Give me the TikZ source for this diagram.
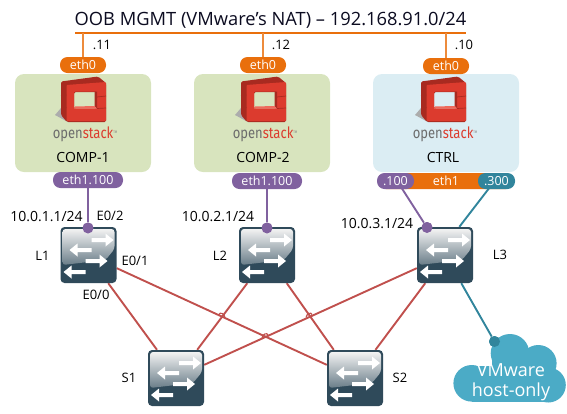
\documentclass[tikz,border=0pt]{standalone}
\usepackage{fontspec}
\setmainfont{Open Sans}
\newfontfamily\logofont{Fira Sans}
\definecolor{cOrange}{HTML}{E96F0C}
\definecolor{cOrangeL}{HTML}{ED8B3C}
\definecolor{cPurple}{HTML}{80619F}
\definecolor{cTeal}{HTML}{31859C}
\definecolor{cRed}{HTML}{C0504D}
\definecolor{cGreen}{HTML}{D8E4BE}
\definecolor{cBlue}{HTML}{DBEDF3}
\definecolor{cCloud}{HTML}{4BABC6}
\definecolor{cSw}{HTML}{2F4A5A}
\definecolor{cNavy}{HTML}{0B0B20}
\definecolor{cLogo}{HTML}{DC3B2E}
\definecolor{cLogoD}{HTML}{A82A20}
\definecolor{cLogoL}{HTML}{EF6A5C}
\tikzset{
  host/.style={fill=#1,rounded corners=9pt,minimum width=136pt,minimum height=98pt,inner sep=0pt},
  pill/.style={fill=#1,text=white,rounded corners=7.5pt,minimum height=16pt,inner sep=0pt,font=\fontsize{12.5}{14}\selectfont},
  swnode/.style={minimum width=56pt,minimum height=56pt,inner sep=0pt},
  dotnode/.style={circle,fill=#1,minimum size=11pt,inner sep=0pt},
  lbl/.style={inner sep=0pt,text=black,font=\fontsize{13}{15}\selectfont},
  iplbl/.style={inner sep=0pt,text=black,font=\fontsize{14}{16}\selectfont},
  redlink/.style={draw=cRed,line width=1.9pt},
  purplelink/.style={draw=cPurple,line width=1.9pt},
  teallink/.style={draw=cTeal,line width=1.9pt},
  orangelink/.style={draw=cOrangeL,line width=1.9pt},
}
% switch icon at the centre of a named node
\newcommand{\swarw}[4]{% x-start, x-end, y, sign
  \fill[white] (#1,#3-2) -- ({#2-8*#4},#3-2) -- ({#2-8*#4},#3-6.5) -- (#2,#3) -- ({#2-8*#4},#3+6.5) -- ({#2-8*#4},#3+2) -- (#1,#3+2) -- cycle;}
\newcommand{\swicon}[1]{%
  \begin{scope}[shift={(#1.center)}]
    \fill[cSw,rounded corners=4pt] (-28,-28) rectangle (28,28);
    \shade[top color=white!90!gray,bottom color=cSw!72!white,rounded corners=3pt]
      (-26,-26) -- (26,-26) -- (26,-6) -- (17,5) -- (-26,10) -- cycle;
    \swarw{3}{25}{-15}{1}
    \swarw{3}{-19}{-5}{-1}
    \swarw{-3}{19}{6}{1}
    \swarw{-3}{-25}{17}{-1}
  \end{scope}}
% OpenStack logo at the centre (x,100)
\newcommand{\oslogo}[3]{%
  \begin{scope}[shift={(#1,100)}]
    \fill[gray!65] (-22,8) -- (-28,15) -- (-15,22) -- cycle;
    \fill[cLogoD,rounded corners=1.5pt,even odd rule]
      (-22,-18.5) -- (15,-23.5) -- (23,-17) -- (23,22) -- (-16,22) -- (-22,15) -- cycle
      (-9,-8) -- (14,-8) -- (14,8.5) -- (-9,8.5) -- cycle;
    \fill[cLogo,rounded corners=1pt,even odd rule]
      (-16.5,-15) -- (23,-18) -- (23,21) -- (-16.5,21) -- cycle
      (-9,-8.5) -- (14,-8.5) -- (14,8.5) -- (-9,8.5) -- cycle;
    \fill[cLogoD] (11.5,-8.5) -- (14,-8.5) -- (14,8.5) -- (11.5,6) -- cycle;
    \fill[cLogoL] (-9,8.5) -- (14,8.5) -- (11.5,6) -- (-8,6.5) -- cycle;
    \draw[cLogoD,line width=.7pt] (-22,-4) -- (-16.5,-5) (-22,9) -- (-16.5,7.5) (14,-3) -- (23,-4) (14,8.5) -- (23,8);
    \node[inner sep=0pt,anchor=base] at (2,38)
      {\scalebox{1}[1.2]{\logofont\fontsize{13}{14}\selectfont\textcolor{gray!85!black}{open}\textcolor{cLogo}{stack}\raisebox{4pt}{\textcolor{gray}{\fontsize{3}{3}\selectfont TM}}}};
    \node[lbl,font=\fontsize{14}{16}\selectfont] (#2) at (0,57.5) {#3};
  \end{scope}}
\newcommand{\bumpdown}[2]{%
  \draw[cRed,line width=1.2pt] (#1-3,#2-1.4) .. controls (#1-2,#2-4) and (#1+2,#2-3) .. (#1+3,#2+1.4);}
\newcommand{\bumpup}[2]{%
  \draw[cRed,line width=1.2pt] (#1-3,#2+1.4) .. controls (#1-2,#2-3) and (#1+2,#2-4) .. (#1+3,#2-1.4);}
\begin{document}
\begin{tikzpicture}[x=1pt,y=-1pt]
\useasboundingbox (0,0) rectangle (567,413);
% OOB bus
\node[inner sep=0pt,text=cNavy,font=\fontsize{18.3}{20}\selectfont] (oob) at (270.5,20) {OOB MGMT (VMware’s NAT) – 192.168.91.0/24};
\coordinate (busL) at (75,33);
\coordinate (busR) at (466,33);
\coordinate (tap1) at (83,33);
\coordinate (tap2) at (263,33);
\coordinate (tap3) at (446,33);
% hosts
\node[host=cGreen] (comp1) at (83,123) {};
\node[host=cGreen] (comp2) at (262,123) {};
\node[host=cBlue,minimum width=146pt] (ctrl) at (446,123) {};
\oslogo{83}{comp1lbl}{COMP-1}
\oslogo{263}{comp2lbl}{COMP-2}
\oslogo{443}{ctrllbl}{CTRL}
% interfaces
\node[pill=cOrange,minimum width=46pt] (eth0a) at (83,65) {eth0};
\node[pill=cOrange,minimum width=46pt] (eth0b) at (263,65) {eth0};
\node[pill=cOrange,minimum width=46pt] (eth0c) at (446,66) {eth0};
\node[pill=cPurple,minimum width=70pt] (eth1a) at (88,180) {eth1.100};
\node[pill=cPurple,minimum width=70pt] (eth1b) at (267,181) {eth1.100};
\node[pill=cOrange,minimum width=124pt,rounded corners=2pt] (eth1c) at (446,181) {eth1};
\node[pill=cPurple,minimum width=37pt] (v100) at (395.5,181) {.100};
\node[pill=cTeal,minimum width=37pt] (v300) at (496.5,181) {.300};
% switches
\node[swnode] (L1) at (88.5,255) {};
\node[swnode] (L2) at (267,255) {};
\node[swnode] (L3) at (445,255) {};
\node[swnode] (S1) at (176,378) {};
\node[swnode] (S2) at (355,378) {};
\node[dotnode=cPurple] (d1) at (88,228) {};
\node[dotnode=cPurple] (d2) at (267,228) {};
\node[dotnode=cPurple] (d3) at (427,227.5) {};
\node[dotnode=cTeal] (d4) at (494.5,341.5) {};
% connectors
\draw[draw=cOrange,line width=2pt] (busL) -- (busR);
\draw[orangelink] (tap1) -- (eth0a);
\draw[orangelink] (tap2) -- (eth0b);
\draw[orangelink] (tap3) -- (eth0c);
\draw[purplelink] (eth1a) -- (d1);
\draw[purplelink] (eth1b) -- (d2);
\draw[purplelink] (401,187) -- (d3);
\draw[teallink] (490,187) -- (L3.63);
\draw[redlink] (L1.-55) -- (S1.124);
\draw[redlink] (L1.-25) -- (S2.155);
\draw[redlink] (L2.-125.5) -- (S1.53.5);
\draw[redlink] (L2.-55) -- (S2.127.5);
\draw[redlink] (L3.205) -- (S1.25);
\draw[redlink] (L3.-125.5) -- (S2.54.5);
\bumpdown{222}{316}
\bumpup{265}{336.5}
\bumpup{309}{316}
% cloud
\begin{scope}
  \fill[cCloud] (471.7,383.3) circle (18.3);
  \fill[cCloud] (510,353.3) circle (19.3);
  \fill[cCloud] (538.3,363.3) circle (18.3);
  \fill[cCloud] (548.3,385) circle (17.5);
  \fill[cCloud] (471.7,366) rectangle (548.3,402.3);
  \fill[cCloud] (492,353) rectangle (540,380);
\end{scope}
\draw[teallink] (L3.-60.7) -- (d4);
\node[dotnode=cTeal] at (d4) {};
\node[inner sep=0pt,text=white,font=\fontsize{18}{20}\selectfont] (cloud1) at (511,370) {VMware};
\node[inner sep=0pt,text=white,font=\fontsize{18}{20}\selectfont] (cloud2) at (511,392) {host-only};
% switch icons
\swicon{L1}\swicon{L2}\swicon{L3}\swicon{S1}\swicon{S2}
\node[dotnode=cPurple] at (d1) {};
\node[dotnode=cPurple] at (d2) {};
\node[dotnode=cPurple] at (d3) {};
% labels
\node[lbl] (t11) at (102,45) {.11};
\node[lbl] (t12) at (281,45) {.12};
\node[lbl] (t10) at (464,45) {.10};
\node[iplbl] (ip1) at (46.5,217) {10.0.1.1/24};
\node[iplbl] (ip2) at (218,217) {10.0.2.1/24};
\node[iplbl] (ip3) at (377,224) {10.0.3.1/24};
\node[lbl] (e02) at (110,216) {E0/2};
\node[lbl] (e01) at (135,261) {E0/1};
\node[lbl] (e00) at (96,295) {E0/0};
\node[lbl] (tL1) at (42.5,256) {L1};
\node[lbl] (tL2) at (220,256) {L2};
\node[lbl] (tL3) at (500,255) {L3};
\node[lbl] (tS1) at (129,378) {S1};
\node[lbl] (tS2) at (400,378) {S2};
\end{tikzpicture}
\end{document}
